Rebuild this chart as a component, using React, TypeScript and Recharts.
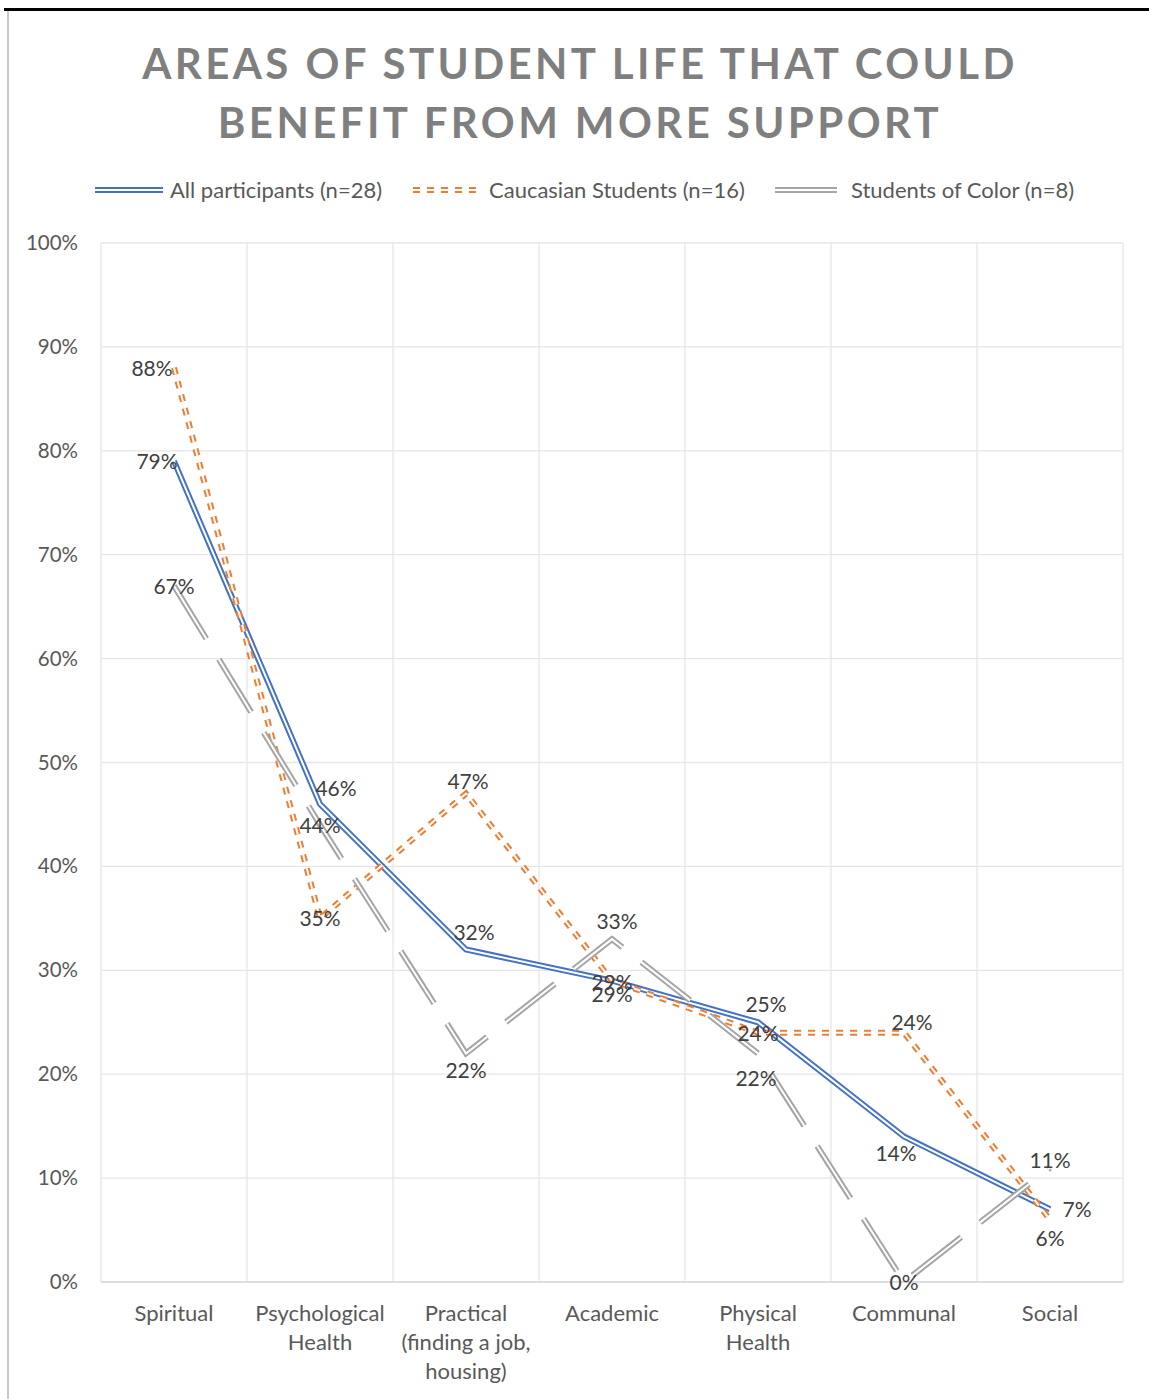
import { CartesianGrid, LabelList, Line, LineChart, XAxis, YAxis } from "recharts";

const CATEGORIES = [
  "Spiritual",
  "Psychological\nHealth",
  "Practical\n(finding a job,\nhousing)",
  "Academic",
  "Physical\nHealth",
  "Communal",
  "Social",
];
const ALL_PARTICIPANTS = [79, 46, 32, 29, 25, 14, 7];
const CAUCASIAN = [88, 35, 47, 29, 24, 24, 6];
const STUDENTS_OF_COLOR = [67, 44, 22, 33, 22, 0, 11];
const Y_TICKS = [0, 10, 20, 30, 40, 50, 60, 70, 80, 90, 100];

// label nudges [dx, dy] so overlapping labels stay readable
const ALL_LABEL_NUDGE = [[-17, 1], [16, -15], [8, -17], [0, 2], [8, -17], [-8, 17], [27, 1]];
const CAUC_LABEL_NUDGE = [[-22, 1], [0, 1], [2, -12], [0, 14], [0, 1], [8, -10], [0, 19]];
const SOC_LABEL_NUDGE = [[0, 1], [0, 1], [0, 18], [5, -17], [-2, 26], [0, 1], [0, -7]];

const FONT = "Lato, 'Open Sans', sans-serif";
const BLUE = "#4472c4";
const ORANGE = "#ed7d31";
const GRAY = "#a5a5a5";
const TEXT = "#595959";

const rows = CATEGORIES.map((name, i) => ({
  name,
  all: ALL_PARTICIPANTS[i],
  cauc: CAUCASIAN[i],
  soc: STUDENTS_OF_COLOR[i],
}));

const SERIES = [
  { key: "all", label: "All participants (n=28)", color: BLUE, dash: undefined, nudge: ALL_LABEL_NUDGE },
  { key: "cauc", label: "Caucasian Students (n=16)", color: ORANGE, dash: "7 7", nudge: CAUC_LABEL_NUDGE },
  { key: "soc", label: "Students of Color (n=8)", color: GRAY, dash: "62 24", nudge: SOC_LABEL_NUDGE },
];

const OUTER_W = 6;
const INNER_W = 2;

function CategoryTick({ x, y, payload }: any) {
  const lines = String(payload.value).split("\n");
  return (
    <text x={x} y={y + 39} textAnchor="middle" fill={TEXT} fontSize={22} fontFamily={FONT}>
      {lines.map((l, i) => (
        <tspan key={i} x={x} dy={i === 0 ? 0 : 29}>
          {l}
        </tspan>
      ))}
    </text>
  );
}

function PercentTick({ y, payload }: any) {
  return (
    <text x={78} y={y + 7} textAnchor="end" fill={TEXT} fontSize={20.5} fontFamily={FONT}>
      {payload.value}%
    </text>
  );
}

function makeLabel(nudge: number[][]) {
  return (props: any) => {
    const { x, y, value, index } = props;
    const [dx, dy] = nudge[index] || [0, 0];
    return (
      <text
        x={x + dx}
        y={y + dy + 7}
        textAnchor="middle"
        fill="#404040"
        fontSize={21}
        fontFamily={FONT}
      >
        {value}%
      </text>
    );
  };
}

function LegendMark({ color, dash }: { color: string; dash?: string }) {
  return (
    <svg width={68} height={10} style={{ display: "block" }}>
      <line x1={0} x2={68} y1={5} y2={5} stroke={color} strokeWidth={OUTER_W} strokeDasharray={dash} />
      <line x1={0} x2={68} y1={5} y2={5} stroke="#fff" strokeWidth={INNER_W} strokeDasharray={dash} />
    </svg>
  );
}

const LEGEND_POS = [
  { mark: 95, text: 170 },
  { mark: 413, text: 489 },
  { mark: 775, text: 851 },
];

export default function App() {
  return (
    <div style={{ position: "absolute", left: 0, top: 0, width: 1149, height: 1399, background: "#fff", overflow: "hidden" }}>
      <div style={{ position: "absolute", left: 4, top: 8, right: 0, height: 3, background: "#000" }} />
      <div style={{ position: "absolute", left: 7, top: 11, width: 1.5, bottom: 0, background: "#c9c9c9" }} />

      <div
        style={{
          position: "absolute",
          left: 0,
          top: 34,
          width: 1160,
          textAlign: "center",
          fontFamily: FONT,
          fontWeight: 700,
          fontSize: 42,
          lineHeight: "59px",
          letterSpacing: 3.4,
          color: "#7f7f7f",
        }}
      >
        AREAS OF STUDENT LIFE THAT COULD
        <br />
        BENEFIT FROM MORE SUPPORT
      </div>

      {SERIES.map((s, i) => (
        <div key={s.key}>
          <div style={{ position: "absolute", left: LEGEND_POS[i].mark, top: 185 }}>
            <LegendMark color={s.color} dash={s.dash} />
          </div>
          <div
            style={{
              position: "absolute",
              left: LEGEND_POS[i].text,
              top: 176,
              fontFamily: FONT,
              fontSize: 22,
              lineHeight: "28px",
              color: TEXT,
              whiteSpace: "nowrap",
            }}
          >
            {s.label}
          </div>
        </div>
      ))}

      <div style={{ position: "absolute", left: 0, top: 0 }}>
        <LineChart width={1149} height={1399} data={rows} margin={{ top: 243, right: 26, bottom: 87, left: 0 }}>
          <CartesianGrid
            stroke="#e6e6e6"
            strokeWidth={1.3}
            verticalCoordinatesGenerator={({ offset }: any) =>
              Array.from({ length: CATEGORIES.length + 1 }, (_, i) => offset.left + (i * offset.width) / CATEGORIES.length)
            }
          />
          <XAxis
            dataKey="name"
            height={30}
            interval={0}
            padding={{ left: 73, right: 73 }}
            tickLine={false}
            tickSize={0}
            tickMargin={0}
            axisLine={{ stroke: "#d9d9d9", strokeWidth: 1.3 }}
            tick={<CategoryTick />}
          />
          <YAxis
            width={101}
            domain={[0, 100]}
            ticks={Y_TICKS}
            interval={0}
            axisLine={false}
            tickLine={false}
            tick={<PercentTick />}
          />
          {SERIES.flatMap((s) => [
            <Line
              key={s.key + "-outer"}
              dataKey={s.key}
              type="linear"
              stroke={s.color}
              strokeWidth={OUTER_W}
              strokeDasharray={s.dash}
              strokeLinejoin="miter"
              strokeLinecap="butt"
              dot={false}
              activeDot={false}
              isAnimationActive={false}
            />,
            <Line
              key={s.key + "-inner"}
              dataKey={s.key}
              type="linear"
              stroke="#fff"
              strokeWidth={INNER_W}
              strokeDasharray={s.dash}
              strokeLinejoin="miter"
              strokeLinecap="butt"
              dot={false}
              activeDot={false}
              isAnimationActive={false}
            />,
          ])}
          {SERIES.map((s) => (
            <Line
              key={s.key + "-labels"}
              dataKey={s.key}
              stroke="none"
              dot={false}
              activeDot={false}
              isAnimationActive={false}
            >
              <LabelList dataKey={s.key} content={makeLabel(s.nudge)} />
            </Line>
          ))}
        </LineChart>
      </div>
    </div>
  );
}
